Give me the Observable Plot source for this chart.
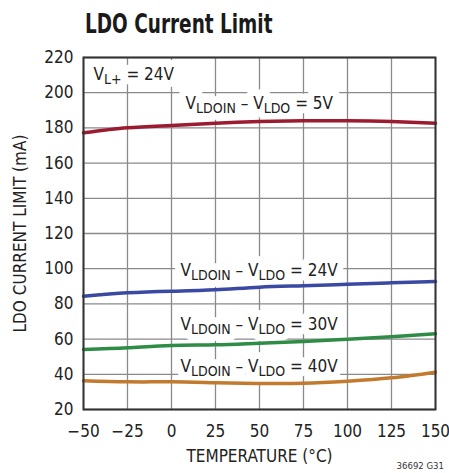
<!DOCTYPE html>
<html>
<head>
<meta charset="utf-8">
<script src="https://cdn.jsdelivr.net/npm/d3@7"></script>
<script src="https://cdn.jsdelivr.net/npm/@observablehq/plot@0.6"></script>
<style>
  html, body { margin: 0; padding: 0; background: #fff; }
  #wrap { position: relative; width: 449px; height: 473px; overflow: hidden; }
  #title { position: absolute; left: 85px; top: 8px; font-family: "DejaVu Sans Condensed", sans-serif; font-weight: bold; font-size: 27px; color: #1a1a1a; white-space: nowrap; transform: scaleX(0.76); transform-origin: left top; }
  #chart { position: absolute; left: 0; top: 40px; }
  #code { position: absolute; right: 5px; top: 460px; font-family: "DejaVu Sans Condensed", sans-serif; font-size: 9.5px; color: #333; }
</style>
</head>
<body>
<div id="wrap">
  <div id="title">LDO Current Limit</div>
  <div id="chart"></div>
  <div id="code">36692 G31</div>
</div>
<script>
const temps = [-50, -25, 0, 25, 50, 75, 100, 125, 150];
const i5V  = [177.2, 180.1, 181.4, 182.7, 183.6, 184.0, 184.0, 183.6, 182.7];
const i24V = [84.4, 86.3, 87.2, 88.0, 89.5, 90.3, 91.2, 92.0, 92.7];
const i30V = [54.1, 55.1, 56.4, 56.8, 57.7, 58.6, 59.9, 61.3, 63.0];
const i40V = [36.3, 35.7, 35.7, 35.2, 34.8, 34.9, 36.1, 38.0, 41.2];
const seriesNames = ["5V", "24V", "30V", "40V"];
const seriesColors = ["#9b1b30", "#3a4aa3", "#2f8c46", "#c27a2e"];
const xTicks = [-50, -25, 0, 25, 50, 75, 100, 125, 150];
const yTicks = [20, 40, 60, 80, 100, 120, 140, 160, 180, 200, 220];

const labelText = ["V_{L+} = 24V", "V_{LDOIN} – V_{LDO} = 5V", "V_{LDOIN} – V_{LDO} = 24V", "V_{LDOIN} – V_{LDO} = 30V", "V_{LDOIN} – V_{LDO} = 40V"];
const labelX = [-44.3, 8.0, 5.1, 5.1, 5.1];
const labelY = [210.5, 193.7, 99.0, 68.3, 44.4];

const allSeries = [i5V, i24V, i30V, i40V];
const rows = [];
allSeries.forEach((vals, s) => vals.forEach((v, i) => rows.push({series: seriesNames[s], t: temps[i], v})));
const labels = labelText.map((text, i) => ({text, x: labelX[i], y: labelY[i]}));

const font = '"DejaVu Sans Condensed", sans-serif';

const chart = Plot.plot({
  width: 449,
  height: 433,
  marginLeft: 83,
  marginRight: 14,
  marginTop: 17,
  marginBottom: 64,
  style: {fontFamily: font, fontSize: "17px", color: "#222", background: "white"},
  x: {domain: [-50, 150]},
  y: {domain: [20, 220]},
  color: {domain: seriesNames, range: seriesColors},
  marks: [
    Plot.gridX(xTicks, {stroke: "#8a8a8a", strokeOpacity: 1, strokeWidth: 1.3}),
    Plot.gridY(yTicks, {stroke: "#8a8a8a", strokeOpacity: 1, strokeWidth: 1.3}),
    Plot.text(labels, {x: "x", y: "y", text: "text", textAnchor: "start", lineAnchor: "middle", fontSize: 17, fill: "white", stroke: "white", strokeWidth: 14, strokeLinejoin: "round", className: "sublabel"}),
    Plot.text(labels, {x: "x", y: "y", text: "text", textAnchor: "start", lineAnchor: "middle", fontSize: 17, fill: "#222", className: "sublabel"}),
    Plot.line(rows, {x: "t", y: "v", z: "series", stroke: "series", strokeWidth: 3.5, curve: "natural"}),
    Plot.frame({stroke: "#333", strokeWidth: 2}),
    Plot.axisX({ticks: xTicks, tickSize: 0, tickPadding: 15, label: "TEMPERATURE (°C)", labelAnchor: "center", labelOffset: 52, labelArrow: "none"}),
    Plot.axisY({ticks: yTicks, tickSize: 0, tickPadding: 10, label: "LDO CURRENT LIMIT (mA)", labelAnchor: "center", labelOffset: 70, labelArrow: "none"})
  ]
});

d3.select(chart).selectAll("g.sublabel text").each(function() {
  const s = this.textContent;
  const t = d3.select(this);
  t.text(null);
  const parts = s.split(/(_\{[^}]*\})/).filter(p => p);
  let shifted = false;
  parts.forEach(p => {
    if (p.startsWith("_{")) {
      t.append("tspan").attr("dy", "4").attr("font-size", "14").text(p.slice(2, -1));
      shifted = true;
    } else {
      const ts = t.append("tspan").text(p);
      if (shifted) { ts.attr("dy", "-4"); shifted = false; }
    }
  });
});

document.getElementById("chart").appendChild(chart);
</script>
</body>
</html>
